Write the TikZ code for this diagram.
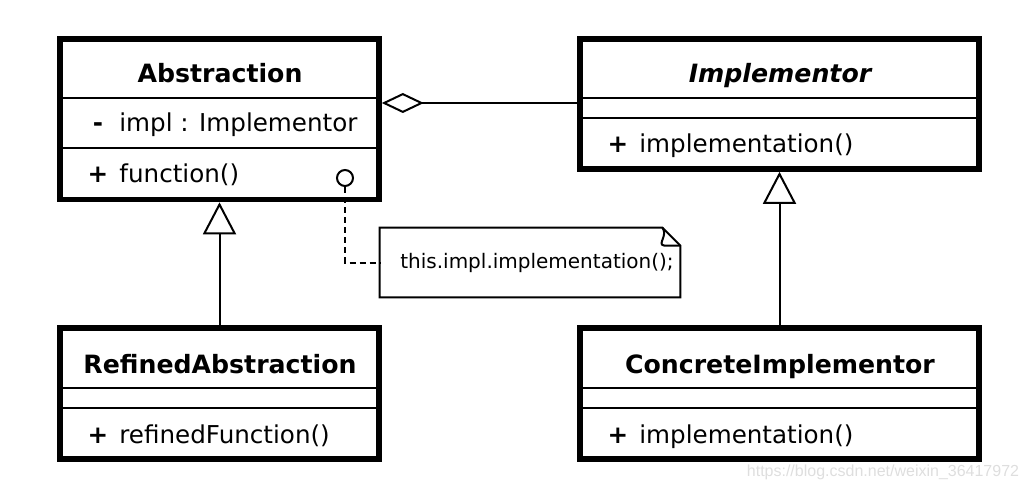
\documentclass[tikz,border=0pt]{standalone}
\usepackage{fontspec}
\setmainfont{DejaVu Sans}
\newfontfamily\markfont{Liberation Sans}
\usetikzlibrary{arrows.meta,fit}

\begin{document}
\begin{tikzpicture}[x=0.5pt,y=-0.5pt,
    classbox/.style={draw,line width=2.8pt,inner sep=0pt},
    sepline/.style={line width=1pt},
    classname/.style={font=\fontsize{12.6}{15}\selectfont\bfseries,anchor=base,inner sep=0pt},
    member/.style={font=\fontsize{12.3}{15}\selectfont,anchor=base west,inner sep=0pt},
    vis/.style={font=\fontsize{12.3}{15}\selectfont\bfseries,anchor=base,inner sep=0pt},
    conn/.style={line width=1pt}]
\useasboundingbox (0,0) rectangle (1028,492);
% class boxes
\node[classbox,fit={(60,39) (379,199.5)}] (abstraction) {};
\node[classbox,fit={(580,39) (979,169)}] (implementor) {};
\node[classbox,fit={(60,328) (379,459)}] (refined) {};
\node[classbox,fit={(580,328) (979,459)}] (concrete) {};
\foreach \y in {98,148}
    \draw[sepline] (abstraction.west |- 0,\y) -- (abstraction.east |- 0,\y);
\foreach \y in {98,118}
    \draw[sepline] (implementor.west |- 0,\y) -- (implementor.east |- 0,\y);
\foreach \y in {388,408}{
    \draw[sepline] (refined.west |- 0,\y) -- (refined.east |- 0,\y);
    \draw[sepline] (concrete.west |- 0,\y) -- (concrete.east |- 0,\y);
}
% names and members
\node[classname] (abstractionname) at (220,83) {Abstraction};
\node[vis] (abstractionattrvis) at (98,132) {-};
\node[member] (abstractionattr) at (119,132) {impl : Implementor};
\node[vis] (abstractionopvis) at (98,183) {+};
\node[member] (abstractionop) at (119,183) {function()};
\node[classname,font=\fontsize{12.6}{15}\selectfont\bfseries\itshape] (implementorname) at (780,83) {Implementor};
\node[vis] (implementoropvis) at (618,153) {+};
\node[member] (implementorop) at (639,153) {implementation()};
\node[classname] (refinedname) at (220,373) {RefinedAbstraction};
\node[vis] (refinedopvis) at (98,443) {+};
\node[member] (refinedop) at (119,443) {refinedFunction()};
\node[classname] (concretename) at (780,373) {ConcreteImplementor};
\node[vis] (concreteopvis) at (618,443) {+};
\node[member] (concreteop) at (639,443) {implementation()};
% note
\node[fit={(380,228) (680,297)},inner sep=0pt] (note) {};
\draw[conn] (note.north west) -- ([xshift=-9pt]note.north east) -- ([yshift=-9pt]note.north east)
    -- (note.south east) -- (note.south west) -- cycle;
\draw[conn] ([xshift=-9pt]note.north east) .. controls +(3pt,-4pt) and +(-4pt,0.5pt) .. ([xshift=-8pt,yshift=-9pt]note.north east)
    -- ([yshift=-9pt]note.north east);
\node[font=\fontsize{10}{12}\selectfont,anchor=base,inner sep=0pt] (notetext) at (537,268) {this.impl.implementation();};
\node[circle,draw,line width=1pt,minimum size=8pt,inner sep=0pt] (implref) at (345,178) {};
\draw[conn,dash pattern=on 3pt off 2pt] (implref.south) |- (note.west);
% relations
\draw[conn,-{Diamond[open,length=21pt,width=10pt]}] (implementor.west |- 0,103) -- (abstraction.east |- 0,103);
\draw[conn,-{Triangle[open,length=16pt,width=16.5pt]}] (refined.north) -- (abstraction.south);
\draw[conn,-{Triangle[open,length=16pt,width=16.5pt]}] (concrete.north) -- (implementor.south);
\node[font=\markfont\fontsize{8}{9}\selectfont,text=black!13] (watermark) at (883,472) {https://blog.csdn.net/weixin\_36417972};
\end{tikzpicture}
\end{document}
